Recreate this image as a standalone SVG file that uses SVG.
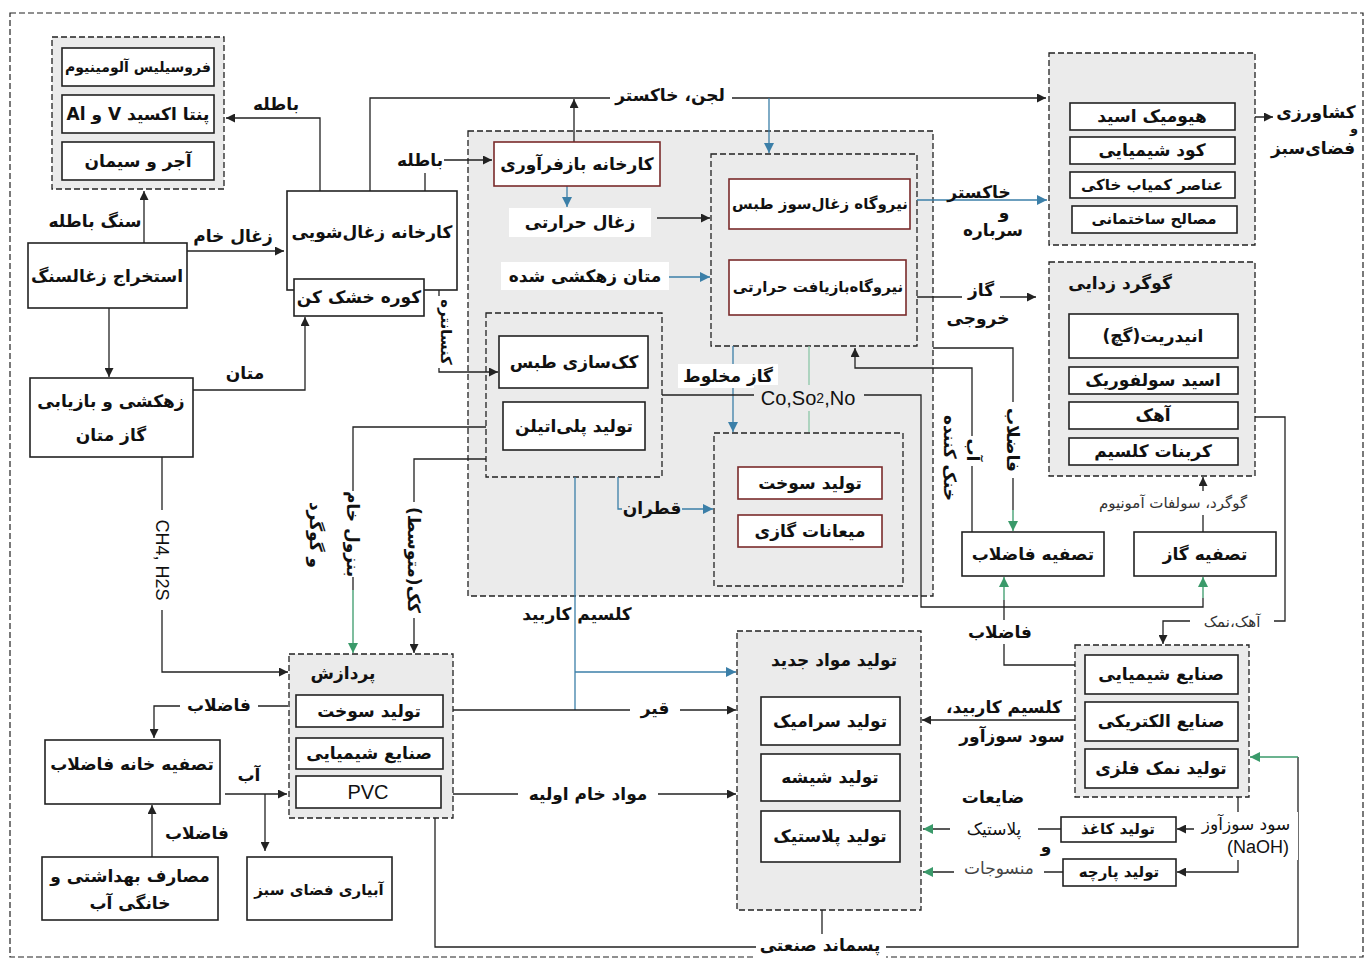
<svg xmlns="http://www.w3.org/2000/svg" width="1371" height="962" viewBox="0 0 1371 962">
<style>
.grp{fill:#ebebeb;stroke:#222;stroke-width:1.3;stroke-dasharray:6 3}
.box{fill:#fff;stroke:#222;stroke-width:1.6}
.rbox{fill:#fff;stroke:#7a2b2b;stroke-width:1.6}
.t{font-family:'DejaVu Sans',sans-serif;font-size:17px;font-weight:bold;fill:#111;text-anchor:middle;direction:rtl;dominant-baseline:central}
.s{font-size:15px}
.xs{font-size:14px}
.e{font-family:'Liberation Sans',sans-serif;font-size:18px;fill:#111;text-anchor:middle;dominant-baseline:central}
.ln{fill:none;stroke:#222;stroke-width:1.3}
.lb{fill:none;stroke:#3b7fa8;stroke-width:1.3}
.lg{fill:none;stroke:#3a9a6a;stroke-width:1.3}
.lgl{fill:none;stroke:#8cc7a8;stroke-width:1.3}
.bgw{fill:#fff}
.bgg{fill:#ebebeb}
</style>
<defs>
<marker id="ak" viewBox="0 0 10 10" refX="10" refY="5" markerWidth="9" markerHeight="9" markerUnits="userSpaceOnUse" orient="auto"><path d="M0,0 L10,5 L0,10 z" fill="#222"/></marker>
<marker id="ab" viewBox="0 0 10 10" refX="10" refY="5" markerWidth="10" markerHeight="10" markerUnits="userSpaceOnUse" orient="auto"><path d="M0,0 L10,5 L0,10 z" fill="#3b7fa8"/></marker>
<marker id="ag" viewBox="0 0 10 10" refX="10" refY="5" markerWidth="10" markerHeight="10" markerUnits="userSpaceOnUse" orient="auto"><path d="M0,0 L10,5 L0,10 z" fill="#3a9a6a"/></marker>
</defs>
<rect width="1371" height="962" fill="#fff"/>
<rect x="10" y="13" width="1353" height="944" fill="none" stroke="#222" stroke-width="1.2" stroke-dasharray="6 3"/>

<!-- group backgrounds -->
<g id="grp-central"><rect class="grp" x="468" y="131" width="465" height="465"/></g>
<g id="grp-power"><rect class="grp" x="711" y="154" width="206" height="192"/></g>
<g id="grp-coking"><rect class="grp" x="486" y="313" width="176" height="164"/></g>
<g id="grp-fuel"><rect class="grp" x="714" y="433" width="189" height="153"/></g>

<!-- connectors -->
<g id="connectors">
<path class="ln" d="M144,243 V191" marker-end="url(#ak)"/>
<path class="ln" d="M187,251 H284" marker-end="url(#ak)"/>
<path class="ln" d="M320,191 V118 H226" marker-end="url(#ak)"/>
<path class="ln" d="M370,191 V98 H1046" marker-end="url(#ak)"/>
<path class="ln" d="M574,142 V99" marker-end="url(#ak)"/>
<path class="lb" d="M769,98 V153" marker-end="url(#ab)"/>
<path class="ln" d="M425,191 V160 H492" marker-end="url(#ak)"/>
<path class="lb" d="M567,186 V207" marker-end="url(#ab)"/>
<path class="ln" d="M657,218 H710" marker-end="url(#ak)"/>
<path class="lb" d="M669,277 H710" marker-end="url(#ab)"/>
<path class="lb" d="M917,200 H1047" marker-end="url(#ab)"/>
<path class="ln" d="M917,297 H1036" marker-end="url(#ak)"/>
<path class="ln" d="M1235,117 H1273" marker-end="url(#ak)"/>
<path class="ln" d="M439,290 V372 H498" marker-end="url(#ak)"/>
<path class="ln" d="M193,390 H305 V317" marker-end="url(#ak)"/>
<path class="ln" d="M109,308 V377" marker-end="url(#ak)"/>
<path class="ln" d="M162,457 V672 H288" marker-end="url(#ak)"/>
<path class="ln" d="M486,427 H353 V590"/>
<path class="lg" d="M353,590 V653" marker-end="url(#ag)"/>
<path class="ln" d="M486,459 H414 V653" marker-end="url(#ak)"/>
<path class="lb" d="M733,346 V432" marker-end="url(#ab)"/>
<path class="lgl" d="M809,346 V432"/>
<path class="ln" d="M662,395 H921 V607 H1203 V598"/>
<path class="lg" d="M1203,598 V577" marker-end="url(#ag)"/>
<path class="ln" d="M972,532 V368 H855 V348" marker-end="url(#ak)"/>
<path class="ln" d="M933,348 H1013 V510"/>
<path class="lg" d="M1013,510 V531" marker-end="url(#ag)"/>
<path class="ln" d="M1203,532 V477" marker-end="url(#ak)"/>
<path class="ln" d="M1238,417 H1285 V621 H1163 V644" marker-end="url(#ak)"/>
<path class="ln" d="M1075,665 H1004 V600"/>
<path class="lg" d="M1004,600 V577" marker-end="url(#ag)"/>
<path class="ln" d="M1075,720 H922" marker-end="url(#ak)"/>
<path class="ln" d="M1238,797 V872 H1177" marker-end="url(#ak)"/>
<path class="ln" d="M1238,829 H1177" marker-end="url(#ak)"/>
<path class="ln" d="M1061,829 H923" marker-end="url(#ag)"/>
<path class="ln" d="M1063,872 H923" marker-end="url(#ag)"/>
<path class="ln" d="M435,818 V947 H1298 V757"/>
<path class="lg" d="M1298,757 H1250" marker-end="url(#ag)"/>
<path class="ln" d="M822,910 V947"/>
<path class="lb" d="M575,477 V710"/>
<path class="lb" d="M575,672 H736" marker-end="url(#ab)"/>
<path class="ln" d="M453,710 H736" marker-end="url(#ak)"/>
<path class="ln" d="M453,794 H736" marker-end="url(#ak)"/>
<path class="lb" d="M618,477 V509 H713" marker-end="url(#ab)"/>
<path class="ln" d="M288,706 H154 V738" marker-end="url(#ak)"/>
<path class="ln" d="M225,794 H287" marker-end="url(#ak)"/>
<path class="ln" d="M265,794 V851" marker-end="url(#ak)"/>
<path class="ln" d="M152,857 V805" marker-end="url(#ak)"/>

<!-- connector labels -->
<text class="t" x="95" y="221">سنگ باطله</text>
<text class="t" x="233" y="236">زغال خام</text>
<text class="t" x="276" y="104">باطله</text>
<rect class="bgw" x="610" y="84" width="122" height="24"/>
<text class="t" x="670" y="95">لجن، خاکستر</text>
<rect class="bgw" x="396" y="149" width="48" height="24"/>
<text class="t" x="420" y="160">باطله</text>
<text class="t" x="979" y="192">خاکستر</text>
<text class="t" x="1004" y="212">و</text>
<text class="t" x="993" y="230">سرباره</text>
<rect class="bgw" x="962" y="280" width="38" height="24"/>
<text class="t" x="981" y="290">گاز</text>
<text class="t" x="978" y="318">خروجی</text>
<text class="t" x="1316" y="112">کشاورزی</text>
<text class="t" x="1354" y="128" style="font-size:13px">و</text>
<text class="t" x="1313" y="148">فضای‌سبز</text>
<rect class="bgw" x="433" y="296" width="24" height="72"/>
<text class="t s" x="446" y="332" transform="rotate(90 446 332)">کنسانتره</text>
<text class="t" x="245" y="373">متان</text>
<rect class="bgw" x="151" y="510" width="22" height="100"/>
<text class="e" x="162" y="560" transform="rotate(90 162 560)">CH4, H2S</text>
<rect class="bgw" x="344" y="491" width="20" height="86"/>
<text class="t" x="353" y="534" transform="rotate(90 353 534)">بنزول خام</text>
<text class="t" x="316" y="535" transform="rotate(90 316 535)">و گوگرد</text>
<rect class="bgw" x="403" y="502" width="22" height="116"/>
<text class="t" x="414" y="560" transform="rotate(90 414 560)">کک(متوسط)</text>
<rect class="bgw" x="678" y="364" width="100" height="24"/>
<text class="t" x="728" y="376">گاز مخلوط</text>
<rect class="bgg" x="754" y="385" width="110" height="26"/>
<text class="e" x="808" y="398" style="font-size:20px">Co,So<tspan style="font-size:14px">2</tspan>,No</text>
<rect class="bgw" x="963" y="436" width="20" height="30"/>
<text class="t" x="973" y="450" transform="rotate(90 973 450)">آب</text>
<text class="t" x="950" y="458" transform="rotate(90 950 458)">خنک کننده</text>
<rect class="bgw" x="1003" y="402" width="20" height="76"/>
<text class="t" x="1013" y="440" transform="rotate(90 1013 440)">فاضلاب</text>
<rect class="bgw" x="1076" y="491" width="196" height="24"/>
<text class="t s" x="1173" y="503" style="font-weight:normal;fill:#333">گوگرد، سولفات آمونیوم</text>
<rect class="bgw" x="1190" y="611" width="84" height="22"/>
<text class="t s" x="1232" y="622" style="font-weight:normal;fill:#333">آهک،نمک</text>
<rect class="bgw" x="962" y="620" width="76" height="24"/>
<text class="t" x="1000" y="632">فاضلاب</text>
<text class="t" x="1004" y="707">کلسیم کاربید،</text>
<text class="t" x="1012" y="736">سود سوزآور</text>
<rect class="bgw" x="1194" y="812" width="104" height="48"/>
<text class="t" x="1246" y="824" style="font-weight:normal">سود سوزآوز</text>
<text class="e" x="1258" y="847">(NaOH)</text>
<text class="t" x="993" y="797">ضایعات</text>
<rect class="bgw" x="950" y="818" width="88" height="22"/>
<text class="t" x="994" y="829" style="font-weight:normal">پلاستیک</text>
<text class="t" x="1046" y="846">و</text>
<rect class="bgw" x="954" y="857" width="90" height="22"/>
<text class="t" x="999" y="868" style="font-weight:normal;fill:#444">منسوجات</text>
<rect class="bgw" x="756" y="934" width="130" height="24"/>
<text class="t" x="820" y="945">پسماند صنعتی</text>
<text class="t" x="577" y="614">کلسیم کاربید</text>
<rect class="bgw" x="630" y="697" width="50" height="24"/>
<text class="t" x="655" y="708">قیر</text>
<rect class="bgw" x="518" y="782" width="140" height="24"/>
<text class="t" x="588" y="794">مواد خام اولیه</text>
<rect class="bgg" x="622" y="496" width="60" height="24"/>
<text class="t" x="652" y="508">قطران</text>
<rect class="bgw" x="180" y="694" width="78" height="24"/>
<text class="t" x="219" y="705">فاضلاب</text>
<text class="t" x="249" y="775">آب</text>
<text class="t" x="197" y="833">فاضلاب</text>
</g>

<!-- nodes -->
<g id="grp-tl"><rect class="grp" x="52" y="37" width="172" height="152"/></g>
<g id="n-ferro"><rect class="box" x="62" y="48" width="152" height="38"/><text class="t xs" x="138" y="67">فروسیلیس آلومینیوم</text></g>
<g id="n-penta"><rect class="box" x="62" y="95" width="152" height="38"/><text class="t" x="138" y="114">پنتا اکسید V و Al</text></g>
<g id="n-ajor"><rect class="box" x="62" y="142" width="152" height="38"/><text class="t" x="138" y="161">آجر و سیمان</text></g>
<g id="n-extract"><rect class="box" x="28" y="243" width="159" height="65"/><text class="t" x="107" y="276">استخراج زغالسنگ</text></g>
<g id="n-drain"><rect class="box" x="30" y="378" width="163" height="79"/><text class="t" x="111" y="401">زهکشی و بازیابی</text><text class="t" x="111" y="435">گاز متان</text></g>
<g id="n-wash"><rect class="box" x="287" y="191" width="170" height="99"/><text class="t" x="372" y="232">کارخانه زغال‌شویی</text></g>
<g id="n-dryer"><rect class="box" x="294" y="279" width="130" height="37"/><text class="t" x="359" y="297">کوره خشک کن</text></g>
<g id="n-recycle"><rect class="rbox" x="494" y="142" width="166" height="44"/><text class="t" x="577" y="164">کارخانه بازفرآوری</text></g>
<g id="n-thermal"><rect class="bgw" x="509" y="208" width="142" height="29"/><text class="t" x="580" y="222">زغال حرارتی</text></g>
<g id="n-methane"><rect class="bgw" x="501" y="262" width="168" height="28"/><text class="t" x="585" y="276">متان زهکشی شده</text></g>
<g id="n-plant1"><rect class="rbox" x="729" y="179" width="181" height="50"/><text class="t s" x="820" y="204">نیروگاه زغال‌سوز طبس</text></g>
<g id="n-plant2"><rect class="rbox" x="729" y="260" width="177" height="55"/><text class="t s" x="818" y="287">نیروگاه‌بازیافت حرارتی</text></g>
<g id="n-coke"><rect class="box" x="499" y="336" width="149" height="52"/><text class="t" x="574" y="362">کک‌سازی طبس</text></g>
<g id="n-pe"><rect class="box" x="503" y="402" width="142" height="48"/><text class="t" x="574" y="426">تولید پلی‌اتیلن</text></g>
<g id="n-fuel1"><rect class="rbox" x="738" y="467" width="144" height="32"/><text class="t" x="810" y="483">تولید سوخت</text></g>
<g id="n-cond"><rect class="rbox" x="738" y="515" width="144" height="32"/><text class="t" x="810" y="531">میعانات گازی</text></g>

<g id="grp-tr"><rect class="grp" x="1049" y="53" width="206" height="192"/></g>
<g id="n-humic"><rect class="box" x="1070" y="103" width="165" height="27"/><text class="t" x="1152" y="116">هیومیک اسید</text></g>
<g id="n-kood"><rect class="box" x="1070" y="137" width="165" height="27"/><text class="t" x="1152" y="150">کود شیمیایی</text></g>
<g id="n-rare"><rect class="box" x="1070" y="172" width="165" height="26"/><text class="t s" x="1152" y="185">عناصر کمیاب خاکی</text></g>
<g id="n-build"><rect class="box" x="1072" y="206" width="165" height="27"/><text class="t s" x="1154" y="219">مصالح ساختمانی</text></g>

<g id="grp-desulf"><rect class="grp" x="1049" y="262" width="206" height="214"/><text class="t" x="1120" y="283">گوگرد زدایی</text></g>
<g id="n-gypsum"><rect class="box" x="1069" y="314" width="169" height="44"/><text class="t" x="1153" y="336">انیدریت(گچ)</text></g>
<g id="n-acid"><rect class="box" x="1069" y="367" width="169" height="27"/><text class="t" x="1153" y="380">اسید سولفوریک</text></g>
<g id="n-lime"><rect class="box" x="1069" y="402" width="169" height="27"/><text class="t" x="1153" y="415">آهک</text></g>
<g id="n-caco3"><rect class="box" x="1069" y="438" width="169" height="27"/><text class="t" x="1153" y="451">کربنات کلسیم</text></g>

<g id="n-wwt"><rect class="box" x="962" y="532" width="142" height="44"/><text class="t" x="1033" y="554">تصفیه فاضلاب</text></g>
<g id="n-gaspur"><rect class="box" x="1134" y="532" width="142" height="44"/><text class="t" x="1205" y="554">تصفیه گاز</text></g>

<g id="grp-ind"><rect class="grp" x="1075" y="645" width="174" height="152"/></g>
<g id="n-chem2"><rect class="box" x="1085" y="655" width="153" height="39"/><text class="t" x="1161" y="674">صنایع شیمیایی</text></g>
<g id="n-elec"><rect class="box" x="1085" y="702" width="153" height="39"/><text class="t" x="1161" y="721">صنایع الکتریکی</text></g>
<g id="n-salt"><rect class="box" x="1085" y="749" width="153" height="39"/><text class="t" x="1161" y="768">تولید نمک فلزی</text></g>
<g id="n-paper"><rect class="box" x="1061" y="817" width="115" height="25"/><text class="t s" x="1118" y="829">تولید کاغذ</text></g>
<g id="n-cloth"><rect class="box" x="1063" y="859" width="113" height="27"/><text class="t s" x="1119" y="872">تولید پارچه</text></g>

<g id="grp-new"><rect class="grp" x="737" y="631" width="184" height="279"/><text class="t" x="834" y="660">تولید مواد جدید</text></g>
<g id="n-ceram"><rect class="box" x="761" y="697" width="139" height="48"/><text class="t" x="830" y="721">تولید سرامیک</text></g>
<g id="n-glass"><rect class="box" x="761" y="754" width="139" height="47"/><text class="t" x="830" y="777">تولید شیشه</text></g>
<g id="n-plastic"><rect class="box" x="761" y="811" width="139" height="51"/><text class="t" x="830" y="836">تولید پلاستیک</text></g>

<g id="grp-proc"><rect class="grp" x="289" y="654" width="164" height="164"/><text class="t" x="343" y="673">پردازش</text></g>
<g id="n-fuel2"><rect class="box" x="296" y="695" width="147" height="32"/><text class="t" x="369" y="711">تولید سوخت</text></g>
<g id="n-chem1"><rect class="box" x="296" y="738" width="147" height="31"/><text class="t" x="369" y="753">صنایع شیمیایی</text></g>
<g id="n-pvc"><rect class="box" x="296" y="776" width="145" height="32"/><text class="e" x="368" y="792" style="font-size:20px">PVC</text></g>

<g id="n-sewage"><rect class="box" x="45" y="740" width="175" height="64"/><text class="t" x="132" y="764">تصفیه خانه فاضلاب</text></g>
<g id="n-irrig"><rect class="box" x="247" y="857" width="145" height="63"/><text class="t s" x="319" y="890">آبیاری فضای سبز</text></g>
<g id="n-domestic"><rect class="box" x="42" y="857" width="176" height="63"/><text class="t" x="130" y="876">مصارف بهداشتی و</text><text class="t" x="130" y="903">خانگی آب</text></g>
</svg>
